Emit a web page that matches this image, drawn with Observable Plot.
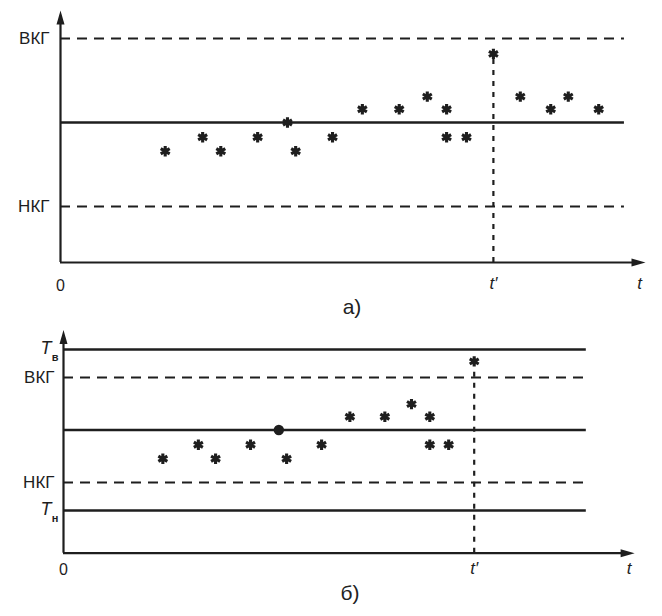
<!DOCTYPE html>
<html><head><meta charset="utf-8">
<script src="https://cdn.jsdelivr.net/npm/d3@7"></script>
<script src="https://cdn.jsdelivr.net/npm/@observablehq/plot@0.6"></script>
<style>
body{margin:0;background:#fff;font-family:"Liberation Sans",Arial,sans-serif;}
#wrap{position:relative;width:662px;height:616px;overflow:hidden;background:#fff}
#pa,#pb{position:absolute;left:0}
#pa{top:0}
#pb{top:310px}
.cap{position:absolute;font-size:21px;line-height:1;color:#222;transform:translate(-50%,-50%);font-family:"Liberation Sans",Arial,sans-serif}
</style></head><body>
<div id="wrap">
  <div id="pa"></div>
  <div id="pb"></div>
  <div class="cap" style="left:352px;top:306px">а)</div>
  <div class="cap" style="left:350px;top:592px">б)</div>
</div>
<script>
// ---- data ----
const tPoints = [17.9, 24.3, 27.4, 33.7, 38.8, 40.2, 46.5, 51.6, 57.9, 62.7, 66.0, 66.0, 69.4, 74.0, 78.6, 83.8, 86.8, 92.0];
const vPoints = [-2.05, -1.05, -2.05, -1.05, 0, -2.05, -1.05, 0.95, 0.95, 1.85, 0.95, -1.05, -1.05, 4.9, 1.85, 0.95, 1.85, 0.95];
const tPrime = 74;
const pointKindB = ["star","star","star","star","dot","star","star","star","star","star","star","star","star","star"];

const limitNamesA = ["ВКГ", "НКГ"];
const limitValuesA = [6, -6];
const limitNamesB = ["ВКГ", "НКГ"];
const limitValuesB = [3.75, -3.75];
const tolNamesB = ["в", "н"];
const tolValuesB = [5.75, -5.75];
const centerValue = 0;
const tickLabels = ["0", "t′", "t"];

// ---- helpers ----
const INK = "#1e1e1e";
const arrowHead = {draw(ctx) { ctx.moveTo(0, 0); ctx.lineTo(4, 14); ctx.lineTo(-4, 14); ctx.closePath(); }};
const font = {fontFamily: "'Liberation Sans', Arial, sans-serif", fill: INK};

function panel({height, centerPx, unit, yMin, yMax, marginLeft, marginRight, lineEnd, xTip, vTop, pts, limNames, limVals, tolNames, tolVals, dyLab, dxLim}) {
  const marginTop = centerPx - yMax * unit;
  const marginBottom = height - (centerPx - yMin * unit);
  const starPts = pts.filter(d => d.kind === "star");
  const dotPts = pts.filter(d => d.kind === "dot");
  const limTable = limNames.map((n, i) => ({n, v: limVals[i]}));
  const tolTable = tolNames.map((n, i) => ({n, v: tolVals[i]}));
  const bottomLabels = [
    {x: 0, s: tickLabels[0], italic: false},
    {x: tPrime, s: tickLabels[1], italic: true},
    {x: xTip - 1, s: tickLabels[2], italic: true}
  ];
  const marks = [
    Plot.ruleY(limVals, {x1: 0, x2: lineEnd, stroke: INK, strokeWidth: 2.2, strokeDasharray: "10,7"}),
    Plot.ruleY(tolVals, {x1: 0, x2: lineEnd, stroke: INK, strokeWidth: 2.3}),
    Plot.ruleY([centerValue], {x1: 0, x2: lineEnd, stroke: INK, strokeWidth: 2.4}),
    Plot.ruleX([tPrime], {y1: yMin, y2: vTop, stroke: INK, strokeWidth: 2.2, strokeDasharray: "5,6"}),
    Plot.ruleX([0], {y1: yMin, y2: yMax - 0.5, stroke: INK, strokeWidth: 2.2}),
    Plot.ruleY([yMin], {x1: 0, x2: xTip - 1.5, stroke: INK, strokeWidth: 2.2}),
    Plot.dot([{x: 0, y: yMax}], {x: "x", y: "y", symbol: arrowHead, fill: INK, stroke: "none"}),
    Plot.dot([{x: xTip, y: yMin}], {x: "x", y: "y", symbol: arrowHead, rotate: 90, fill: INK, stroke: "none"}),
    Plot.dot(starPts, {x: "t", y: "v", symbol: "asterisk", r: 4.9, stroke: INK, strokeWidth: 3.1}),
    Plot.dot(dotPts, {x: "t", y: "v", r: 5.2, fill: INK, stroke: "none"}),
    Plot.text(limTable, {x: () => 0, y: "v", text: "n", textAnchor: "end", dx: dxLim, fontSize: 17, ...font}),
    Plot.text(tolTable, {x: () => 0, y: "v", text: () => "T", textAnchor: "end", dx: -12, dy: -1, fontSize: 18, fontStyle: "italic", ...font}),
    Plot.text(tolTable, {x: () => 0, y: "v", text: "n", textAnchor: "end", dx: -5, dy: 8, fontSize: 11, fontWeight: "bold", ...font}),
    Plot.text(bottomLabels.filter(d => !d.italic), {x: "x", y: () => yMin, dy: dyLab[0], text: "s", fontSize: 16, ...font}),
    Plot.text(bottomLabels.filter(d => d.italic), {x: "x", y: () => yMin, dy: dyLab[1], text: "s", fontSize: 17, fontStyle: "italic", ...font})
  ];
  return Plot.plot({
    width: 662, height,
    marginTop, marginBottom, marginLeft, marginRight,
    x: {domain: [0, 100], axis: null},
    y: {domain: [yMin, yMax], axis: null},
    style: {background: "transparent", overflow: "visible"},
    marks
  });
}

const ptsA = tPoints.map((t, i) => ({t, v: vPoints[i], kind: "star"}));
const ptsB = tPoints.filter(t => t <= tPrime).map((t, i) => ({t, v: vPoints[i], kind: pointKindB[i]}));

document.getElementById("pa").append(panel({
  height: 300, centerPx: 122, unit: 14, yMin: -10, yMax: 8,
  marginLeft: 60, marginRight: 17, lineEnd: 96.4, xTip: 100, vTop: 4.55,
  pts: ptsA, limNames: limitNamesA, limVals: limitValuesA, tolNames: [], tolVals: [],
  dyLab: [23, 21], dxLim: -11
}));

document.getElementById("pb").append(panel({
  height: 275, centerPx: 119.5, unit: 14, yMin: -8.8, yMax: 7.15,
  marginLeft: 63, marginRight: 44, lineEnd: 94.2, xTip: 102.9, vTop: 4.5,
  pts: ptsB, limNames: limitNamesB, limVals: limitValuesB, tolNames: tolNamesB, tolVals: tolValuesB,
  dyLab: [17, 15], dxLim: -9
}));
</script>
</body></html>
